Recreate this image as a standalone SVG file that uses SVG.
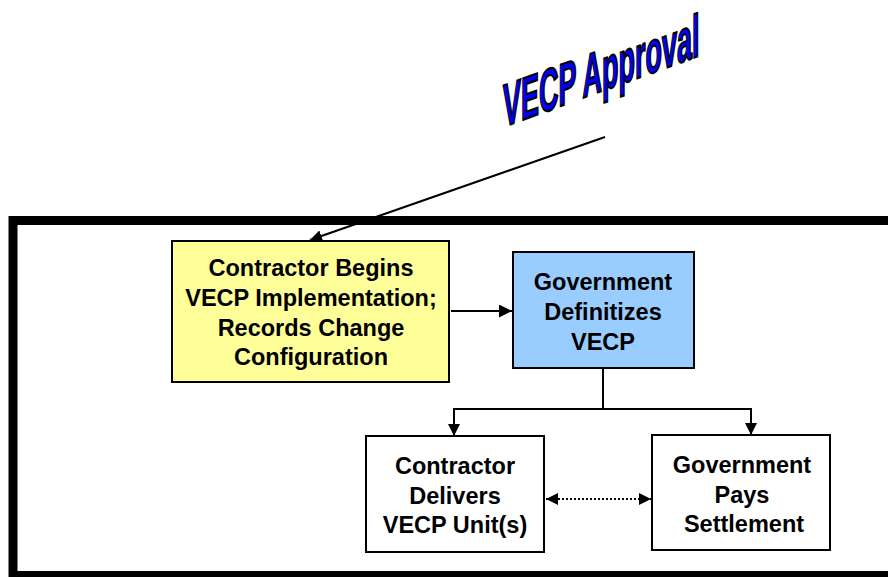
<svg xmlns="http://www.w3.org/2000/svg" width="888" height="577" viewBox="0 0 888 577">
<style>
.box{stroke:#000;stroke-width:2}
.t{font-family:"Liberation Sans",Arial,sans-serif;font-weight:bold;font-size:23.5px;text-anchor:middle;fill:#000}
.c{stroke:#000;stroke-width:2;fill:none}
</style>
<defs>
<marker id="ah" viewBox="0 0 10 10" refX="10" refY="5" markerWidth="12" markerHeight="12" markerUnits="userSpaceOnUse" orient="auto-start-reverse">
<path d="M0,0 L10,5 L0,10 z" fill="#000"/>
</marker>
<marker id="ah2" viewBox="0 0 10 10" refX="10" refY="5" markerWidth="13" markerHeight="13" markerUnits="userSpaceOnUse" orient="auto-start-reverse">
<path d="M0,0 L10,5 L0,10 z" fill="#000"/>
</marker>
</defs>
<rect width="888" height="577" fill="#fff"/>
<g id="frame"><rect x="13" y="220.5" width="900" height="355" fill="none" stroke="#000" stroke-width="9"/></g>
<g id="title">
<text transform="translate(503,127) skewY(-20) scale(0.45,1)" font-family="Liberation Sans,Arial,sans-serif" font-weight="bold" font-size="60" fill="#0000FF" stroke="#000" stroke-width="1.8" vector-effect="non-scaling-stroke">VECP Approval</text>
</g>
<g id="connectors">
<line class="c" x1="605" y1="137" x2="310" y2="240" marker-end="url(#ah)"/>
<line class="c" x1="451" y1="311" x2="512" y2="311" marker-end="url(#ah2)"/>
<polyline class="c" points="603,368 603,409"/>
<polyline class="c" points="454,436 454,409 751,409 751,435" marker-start="url(#ah)" marker-end="url(#ah)"/>
<line class="c" x1="546" y1="499" x2="651" y2="499" stroke-dasharray="2,2" marker-start="url(#ah)" marker-end="url(#ah)"/>
</g>
<g id="n1">
<rect class="box" x="172" y="241" width="277" height="141" fill="#FFFF99"/>
<text class="t" x="311" y="276">Contractor Begins</text>
<text class="t" x="311" y="306">VECP Implementation;</text>
<text class="t" x="311" y="336">Records Change</text>
<text class="t" x="311" y="365">Configuration</text>
</g>
<g id="n2">
<rect class="box" x="513" y="252" width="181" height="116" fill="#99CCFF"/>
<text class="t" x="603" y="290">Government</text>
<text class="t" x="603" y="320">Definitizes</text>
<text class="t" x="603" y="350">VECP</text>
</g>
<g id="n3">
<rect class="box" x="366" y="436" width="178" height="116" fill="#fff"/>
<text class="t" x="455" y="474">Contractor</text>
<text class="t" x="455" y="504">Delivers</text>
<text class="t" x="455" y="533">VECP Unit(s)</text>
</g>
<g id="n4">
<rect class="box" x="652" y="435" width="178" height="115" fill="#fff"/>
<text class="t" x="742" y="473">Government</text>
<text class="t" x="742" y="503">Pays</text>
<text class="t" x="744" y="532">Settlement</text>
</g>
</svg>
